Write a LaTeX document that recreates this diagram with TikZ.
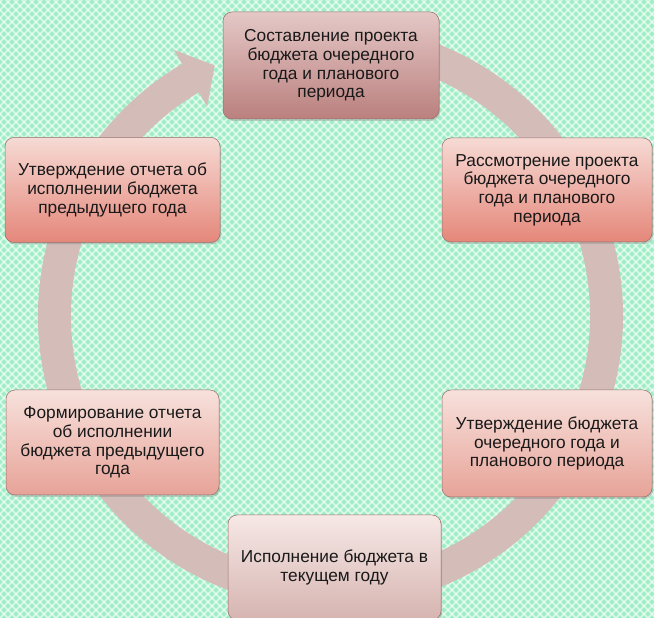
\documentclass[tikz,border=0pt]{standalone}
\usepackage{fontspec}
\setmainfont{Liberation Sans}
\usetikzlibrary{shadows}
\definecolor{mint}{RGB}{160,238,198}
\definecolor{ringc}{RGB}{212,189,185}
\definecolor{aTop}{RGB}{228,200,198}
\definecolor{aBot}{RGB}{186,128,126}
\definecolor{bTop}{RGB}{246,218,212}
\definecolor{bBot}{RGB}{229,135,122}
\definecolor{cTop}{RGB}{247,225,220}
\definecolor{cBot}{RGB}{231,163,152}
\definecolor{dTop}{RGB}{246,232,230}
\definecolor{dBot}{RGB}{214,180,176}
\definecolor{edge}{RGB}{150,110,106}
\begin{document}
\begin{tikzpicture}[x=1pt,y=1pt,
  bgline/.style={white, line width=1.7pt, opacity=0.6},
  stepbox/.style={draw=edge, line width=0.5pt, rounded corners=9pt, inner sep=0pt,
    align=center, font=\fontsize{17.3}{18.6}\selectfont, text=black!90,
    drop shadow={shadow xshift=1.2pt, shadow yshift=-2pt, opacity=0.35}},
  boxA/.style={stepbox, top color=aTop, bottom color=aBot},
  boxB/.style={stepbox, top color=bTop, bottom color=bBot},
  boxC/.style={stepbox, top color=cTop, bottom color=cBot},
  boxD/.style={stepbox, top color=dTop, bottom color=dBot}]
\useasboundingbox (0,0) rectangle (654,618);
\begin{scope}
\clip (0,0) rectangle (654,618);
\fill[mint] (0,0) rectangle (654,618);
\foreach \c in {-624,-616,...,656} \draw[bgline] (\c,0) -- ++(618,618);
\foreach \c in {0,8,...,1280} \draw[bgline] (\c,0) -- ++(-618,618);

% ring
\coordinate (ctr) at (330.5,302);
\draw[ringc, line width=33pt] ([shift={(120:276)}]ctr) arc[start angle=120, end angle=455, radius=276];
\fill[ringc] ([shift={(120.5:259.5)}]ctr) -- ([shift={(120.5:243)}]ctr) -- ([shift={(114.8:276)}]ctr)
  -- ([shift={(120.5:309)}]ctr) -- ([shift={(120.5:292.5)}]ctr) -- cycle;

% boxes
\node[boxA, minimum width=216pt, minimum height=107pt] (n1) at (331,552.5)
  {Составление проекта\\бюджета очередного\\года и планового\\периода};
\node[boxB, minimum width=210pt, minimum height=104pt] (n2) at (547,428)
  {Рассмотрение проекта\\бюджета очередного\\года и планового\\периода};
\node[boxC, minimum width=210pt, minimum height=107pt] (n3) at (547,174.5)
  {Утверждение бюджета\\очередного года и\\планового периода};
\node[boxD, minimum width=213pt, minimum height=105pt] (n4) at (334.5,50.5)
  {Исполнение бюджета в\\текущем году};
\node[boxC, minimum width=213pt, minimum height=105pt] (n5) at (112.5,175.5)
  {Формирование отчета\\об исполнении\\бюджета предыдущего\\года};
\node[boxB, minimum width=215pt, minimum height=105pt] (n6) at (112.5,428)
  {Утверждение отчета об\\исполнении бюджета\\предыдущего года};
\end{scope}
\end{tikzpicture}
\end{document}
